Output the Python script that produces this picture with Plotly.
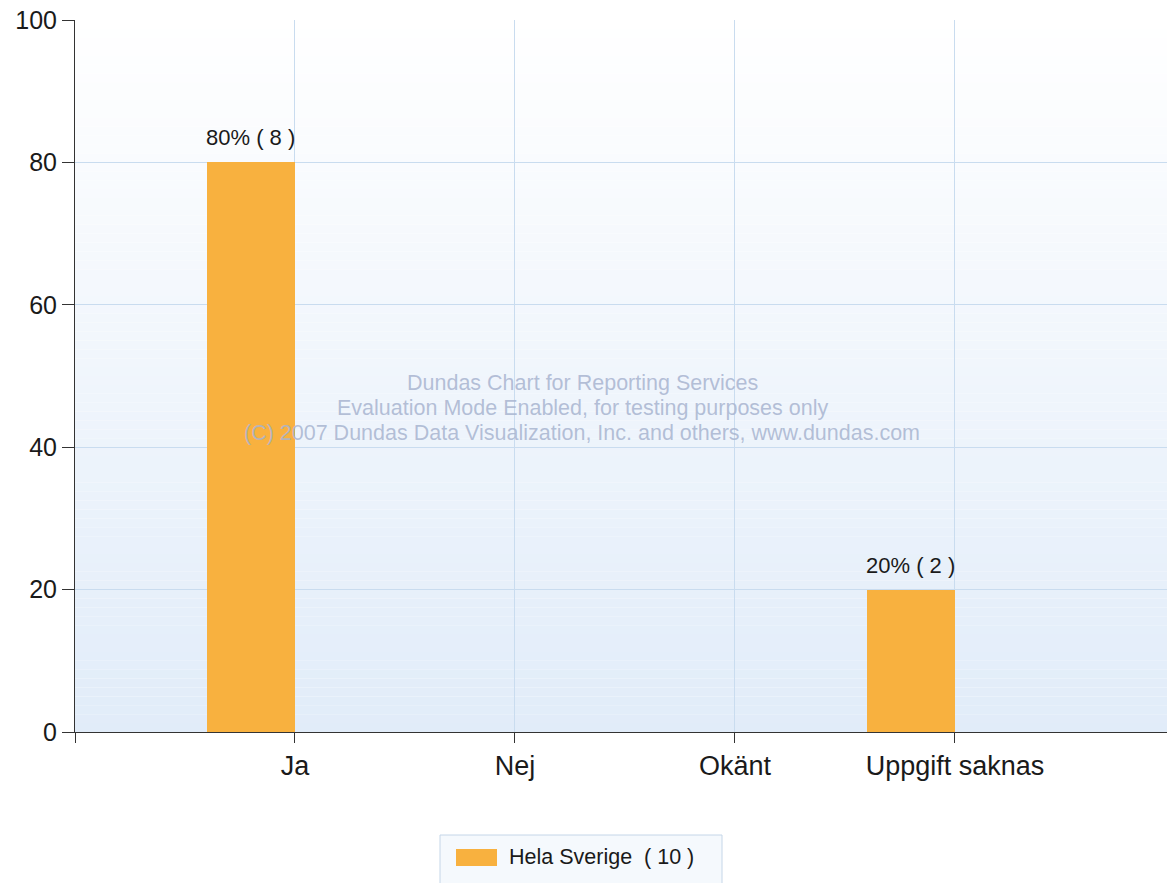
import plotly.graph_objects as go

categories = ["Ja", "Nej", "Okänt", "Uppgift saknas"]
percent_values = [80, 0, 0, 20]
counts = [8, 0, 0, 2]
series_name = "Hela Sverige"
series_total = 10
y_ticks = [0, 20, 40, 60, 80, 100]
watermark_lines = [
    "Dundas Chart for Reporting Services",
    "Evaluation Mode Enabled, for testing purposes only",
    "(C) 2007 Dundas Data Visualization, Inc. and others, www.dundas.com",
]

W, H = 1167, 883
ML, MR, MT, MB = 75, 0, 20, 151
PW, PH = W - ML - MR, H - MT - MB

def px_x(p):
    return (p - ML) / PW

def px_y(p):
    return (H - MB - p) / PH

FONT = "Liberation Sans, Arial, sans-serif"
BAR_COLOR = "#F8B13F"
GRID = "#C9DCEF"

xs = list(range(len(categories)))

fig = go.Figure()
fig.add_trace(go.Bar(
    x=xs, y=percent_values, width=0.4, offset=-0.4,
    marker=dict(color=BAR_COLOR, line=dict(width=0)),
    name=series_name, showlegend=False, hoverinfo="y",
))

shapes = []
# background gradient (white top -> light blue bottom)
n = 80
top = (255, 255, 255)
bot = (225, 236, 249)
for i in range(n):
    t = (i + 0.5) / n  # 0 bottom .. 1 top
    c = tuple(round(bot[k] + (top[k] - bot[k]) * t) for k in range(3))
    shapes.append(dict(type="rect", xref="x domain", yref="y domain",
                       x0=0, x1=1, y0=i / n, y1=(i + 1) / n,
                       fillcolor="rgb(%d,%d,%d)" % c, line=dict(width=0),
                       layer="below"))

# custom legend
shapes.append(dict(type="rect", xref="paper", yref="paper",
                   x0=px_x(440), x1=px_x(722), y0=px_y(835), y1=px_y(884),
                   fillcolor="#F5F9FD", line=dict(color="#C5D6E8", width=1)))
shapes.append(dict(type="rect", xref="paper", yref="paper",
                   x0=px_x(456), x1=px_x(497), y0=px_y(849), y1=px_y(866),
                   fillcolor=BAR_COLOR, line=dict(width=0)))

annotations = []
for x, v, c in zip(xs, percent_values, counts):
    if c:
        annotations.append(dict(x=x - 0.2, y=v, xref="x", yref="y",
                                text=f"{v}% ( {c} )", showarrow=False,
                                yanchor="bottom", yshift=10,
                                font=dict(family=FONT, size=22, color="#1a1a1a")))

for i, line in enumerate(watermark_lines):
    annotations.append(dict(x=px_x(582), y=px_y(383 + 25 * i), xref="paper", yref="paper",
                            text=line, showarrow=False,
                            xanchor="center", yanchor="middle",
                            font=dict(family=FONT, size=21.5, color="rgba(168,180,208,0.85)")))

annotations.append(dict(x=px_x(507), y=px_y(857), xref="paper", yref="paper",
                        text=f"{series_name}  ( {series_total} )", showarrow=False,
                        xanchor="left", yanchor="middle",
                        font=dict(family=FONT, size=21.5, color="#1a1a1a")))

fig.update_layout(
    width=W, height=H,
    margin=dict(l=ML, r=MR, t=MT, b=MB, pad=0),
    paper_bgcolor="white", plot_bgcolor="white",
    font=dict(family=FONT, color="#1a1a1a"),
    shapes=shapes, annotations=annotations,
    showlegend=False, bargap=0,
)
fig.update_xaxes(
    range=[-1, 3.964], tickmode="array",
    tickvals=[-1] + xs, ticktext=[""] + categories,
    ticks="outside", ticklen=10, tickcolor="#333", tickwidth=1,
    showline=True, linecolor="#333", linewidth=1,
    showgrid=True, gridcolor=GRID, gridwidth=1,
    zeroline=False, tickfont=dict(size=27, color="#1a1a1a"),
)
fig.update_yaxes(
    range=[0, 100], tickmode="array", tickvals=y_ticks,
    ticks="outside", ticklen=12, tickcolor="#333", tickwidth=1,
    showline=True, linecolor="#333", linewidth=1,
    showgrid=True, gridcolor=GRID, gridwidth=1,
    zeroline=False, tickfont=dict(size=25, color="#1a1a1a"),
)

fig.write_html("out.html", config={"displayModeBar": False},
               post_script="document.body.style.margin='0';")
